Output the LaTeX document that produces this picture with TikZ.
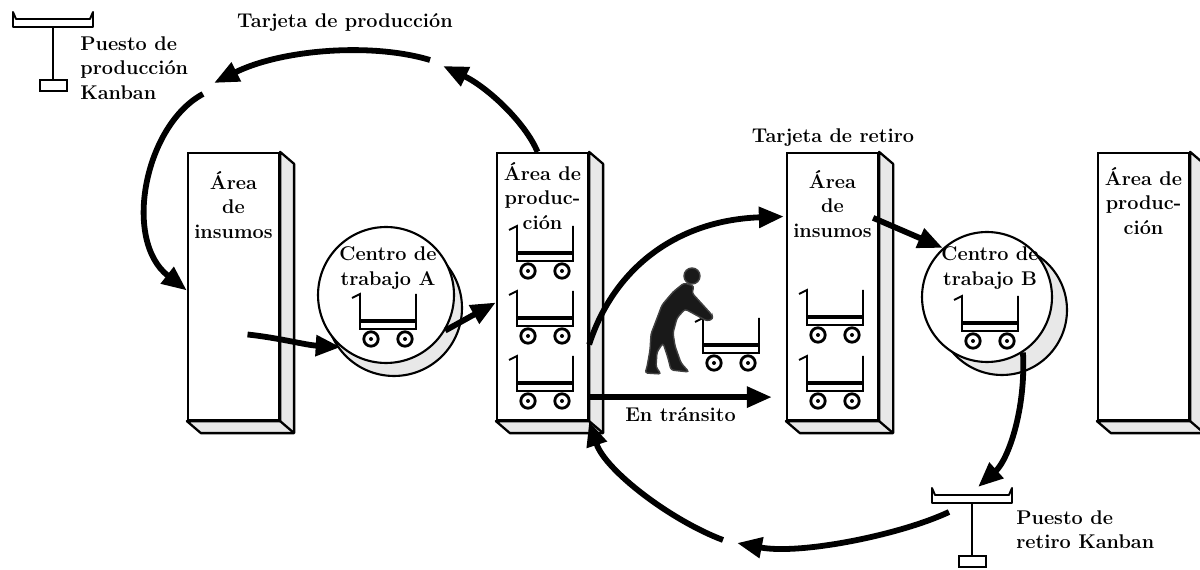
\documentclass[tikz,border=0pt]{standalone}
\usepackage{tikz}
\usetikzlibrary{positioning, arrows.meta, calc}
\definecolor{sidegray}{gray}{0.91}

% side and bottom faces of a pillar
\newcommand{\pillarfaces}[1]{%
  \filldraw[fill=sidegray, line width=1.3pt, line join=round]
    (#1.north east) -- ++(14,12) -- ($(#1.south east)+(14,12)$)
    -- ($(#1.south west)+(14,12)$) -- (#1.south west) -- (#1.south east) -- cycle;
  \draw[line width=1.3pt] (#1.south east) -- ++(14,12);
}

\begin{document}
\begin{tikzpicture}[
    x=0.02cm, y=-0.02cm,
    pillar/.style={rectangle, draw, line width=1.3pt, fill=white, minimum width=1.82cm, minimum height=5.34cm, inner sep=0pt},
    wcenter/.style={circle, draw, line width=1.2pt, fill=white, inner sep=0pt},
    txt/.style={font=\fontsize{11.3}{14}\selectfont\bfseries, align=center, inner sep=0pt},
    flow/.style={line width=3.3pt, -{Triangle[length=0.5cm, width=0.4cm]}},
    cart/.pic={
      \draw[line width=1.1pt] (-8,4) -- (0,0) -- (0,35) -- (56,35) -- (56,0);
      \draw[line width=1.8pt] (0,27) -- (56,27);
      \foreach \wx in {11,45} {
        \draw[line width=1.6pt, fill=white] (\wx,45) circle (7.2);
        \fill (\wx,45) circle (2);
      }
    },
    puesto/.pic={
      \draw[line width=1.1pt, line join=round] (-40,-15) -- (-40,0) -- (40,0) -- (40,-15) -- (37,-8) -- (-37,-8) -- cycle;
      \draw[line width=1.1pt] (0,0) -- (0,53);
      \draw[line width=1.1pt] (-13,53) rectangle (14,64);
    }
  ]
  \useasboundingbox[fill=white] (0,0) rectangle (1200,570);

  % Pillars
  \node[pillar] (insA) at (233.5,286.5) {};
  \node[pillar] (prodA) at (542.5,286.5) {};
  \node[pillar] (insB) at (832.5,286.5) {};
  \node[pillar] (prodB) at (1143.5,286.5) {};
  \foreach \p in {insA,prodA,insB,prodB} {\pillarfaces{\p}}

  \node[txt, anchor=north] at ($(insA.north)+(0,19)$) {Área\\de\\insumos};
  \node[txt, anchor=north] at ($(prodA.north)+(0,10)$) {Área de\\produc-\\ción};
  \node[txt, anchor=north] at ($(insB.north)+(0,18)$) {Área\\de\\insumos};
  \node[txt, anchor=north] at ($(prodB.north)+(0,15)$) {Área de\\produc-\\ción};

  % Work centres
  \node[wcenter, minimum size=2.72cm, fill=sidegray] (ctAsh) at (394,308) {};
  \node[wcenter, minimum size=2.72cm] (ctA) at (386,295) {};
  \node[wcenter, minimum size=2.6cm, fill=sidegray] (ctBsh) at (1002,310) {};
  \node[wcenter, minimum size=2.6cm] (ctB) at (987,297) {};
  \node[txt] at (388,268) {Centro de\\trabajo A};
  \node[txt] at (990,268) {Centro de\\trabajo B};

  % Carts
  \foreach \cy in {226,291,356} {\pic at (517,\cy) {cart};}
  \foreach \cy in {290,356} {\pic at (807,\cy) {cart};}
  \pic at (360,294) {cart};
  \pic at (962,296) {cart};
  \pic at (703,318) {cart};

  % Worker pushing the cart
  \fill[black!90, rounded corners=1.5pt, draw=black!75, line width=0.8pt]
    (684,283) -- (673,292) -- (662,305) -- (656,321) -- (651,334) -- (650,350)
    -- (647,367) -- (645,373) -- (661,374) -- (656,367) -- (657,352) -- (663,343)
    -- (668,358) -- (671,370) -- (689,372) -- (681,363) -- (675,346) -- (673,333)
    -- (677,318) -- (685,309) -- (707,321) -- (713,319) -- (712,315) -- (692,293)
    -- (694,286) -- cycle;
  \fill[black!90, draw=black!75, line width=0.8pt] (692,276) circle (8);

  % Kanban posts
  \coordinate (pkProd) at (53,27);
  \coordinate (pkRet) at (972,503);
  \pic at (pkProd) {puesto};
  \pic at (pkRet) {puesto};

  % Labels
  \node[txt, anchor=north west, align=left] (lblProd) at (80,36) {Puesto de\\producción\\Kanban};
  \node[txt, anchor=north west, align=left] (lblRet) at (1016,510) {Puesto de\\retiro Kanban};
  \node[txt] (cardProd) at (345,23) {Tarjeta de producción};
  \node[txt] (cardRet) at (833,138) {Tarjeta de retiro};

  % Loop ends
  \coordinate (tp1) at (443,66);
  \coordinate (tp2) at (430,60);
  \coordinate (tp3) at (214,83);
  \coordinate (tp4) at (203,94);
  \coordinate (tr1) at (949,512);
  \coordinate (tr2) at (737,543);
  \coordinate (tr3) at (723,540);

  % Production card loop
  \draw[flow] ($(prodA.north)+(-5,0)$) .. controls (525,122) and (487,87) .. (tp1);
  \draw[flow] (tp2) .. controls (370,42) and (280,50) .. (tp3);
  \draw[flow] (tp4) .. controls (145,125) and (122,240) .. ($(insA.west)+(0,4)$);

  % Material flow
  \draw[flow] ($(insA.center)+(14,48)$) .. controls (280,338) and (305,345) .. (ctA.229);
  \draw[flow] (ctA.-31) -- ($(prodA.west)+(0,16)$);
  \draw[flow] ($(prodA.east)+(0,58)$) .. controls (615,265) and (680,220) .. ($(insB.west)+(-2,-70)$);
  \draw[flow] ($(prodA.south east)+(0,-24)$) -- node[txt, below=4pt] {En tránsito} ($(insB.south west)+(-14,-24)$);
  \draw[flow] ($(insB.north east)+(-6,66)$) -- (ctB.132);

  % Withdrawal card loop
  \draw[flow] (ctB.-57) .. controls (1026,410) and (1008,460) .. ($(pkRet)+(6,-16)$);
  \draw[flow] (tr1) .. controls (900,535) and (800,555) .. (tr2);
  \draw[flow] (tr3) .. controls (670,520) and (605,470) .. (prodA.south east);
\end{tikzpicture}
\end{document}
